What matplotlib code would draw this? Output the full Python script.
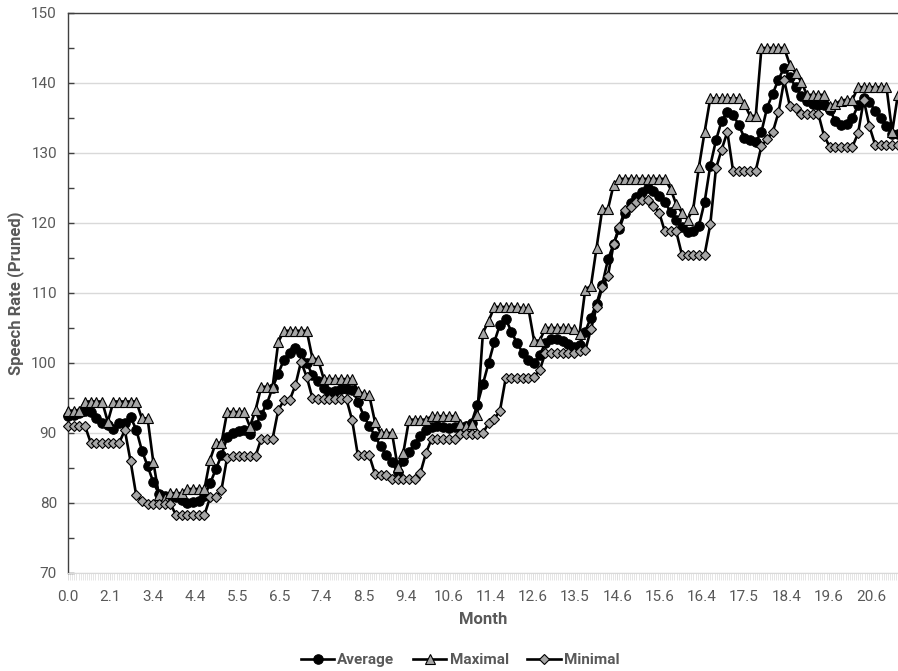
import numpy as np
import matplotlib
matplotlib.use("Agg")
import matplotlib.pyplot as plt
from matplotlib.ticker import MultipleLocator, FixedLocator

plt.rcParams['font.family'] = ['Roboto', 'DejaVu Sans']

# Month label shown every 20th category on the axis
month_labels = ["0.0", "2.1", "3.4", "4.4", "5.5", "6.5", "7.4", "8.5", "9.4", "10.6",
                "11.4", "12.6", "13.5", "14.6", "15.6", "16.4", "17.5", "18.4", "19.6", "20.6"]
n_categories = 393
label_every = 20

average = [92.5, 92.6, 92.8, 93.1, 93.0, 92.2, 91.5, 91.1, 90.6, 91.5,
           91.4, 92.3, 90.5, 87.5, 85.3, 83.0, 81.3, 81.0, 80.9, 80.8,
           80.5, 80.0, 80.2, 80.3, 81.0, 82.8, 84.8, 86.8, 89.4, 90.0,
           90.3, 90.4, 89.8, 91.1, 92.6, 94.2, 96.5, 98.5, 100.5, 101.5,
           102.2, 101.5, 100.0, 98.3, 97.5, 96.5, 95.8, 96.0, 96.3, 96.3,
           96.2, 94.5, 92.5, 91.0, 89.6, 88.1, 86.9, 85.8, 84.4, 86.0,
           87.3, 88.5, 89.6, 90.4, 90.8, 91.0, 90.9, 90.7, 90.9, 90.9,
           91.0, 91.5, 94.0, 97.0, 100.0, 103.0, 105.5, 106.3, 104.5, 102.8,
           101.5, 100.5, 100.0, 101.2, 102.8, 103.5, 103.5, 103.2, 102.7, 102.3,
           102.6, 104.5, 106.5, 108.5, 111.2, 114.8, 117.0, 119.2, 121.5, 122.9,
           123.7, 124.4, 125.0, 124.6, 123.9, 123.0, 121.6, 120.4, 119.5, 118.7,
           118.8, 119.6, 123.0, 128.2, 131.8, 134.6, 135.8, 135.5, 134.0, 132.2,
           131.8, 131.6, 133.0, 136.5, 138.5, 140.5, 142.2, 140.8, 139.5, 138.2,
           137.5, 137.0, 136.8, 136.8, 136.2, 134.6, 134.0, 134.1, 135.0, 136.8,
           137.8, 137.3, 136.0, 135.0, 133.8, 132.7, 132.7]

maximal = [93.2, 93.2, 93.2, 94.5, 94.5, 94.5, 94.5, 91.6, 94.5, 94.5,
           94.5, 94.5, 94.5, 92.1, 92.1, 85.9, 81.1, 80.7, 81.4, 81.4,
           81.4, 82.0, 82.0, 82.0, 82.0, 86.2, 88.6, 88.6, 93.0, 93.0,
           93.0, 93.0, 90.9, 93.3, 96.6, 96.6, 96.6, 103.0, 104.6, 104.6,
           104.6, 104.6, 104.6, 100.7, 100.5, 97.7, 97.7, 97.7, 97.7, 97.7,
           97.7, 96.0, 95.6, 95.4, 91.6, 90.0, 90.0, 90.0, 85.2, 87.2,
           91.9, 91.9, 91.9, 91.9, 92.4, 92.4, 92.4, 92.4, 92.4, 91.3,
           91.0, 91.3, 92.6, 104.3, 106.0, 108.0, 108.0, 108.0, 108.0, 108.0,
           107.8, 107.8, 103.2, 103.2, 105.0, 105.0, 105.0, 105.0, 105.0, 104.8,
           104.2, 110.5, 111.0, 116.5, 122.0, 122.0, 125.5, 126.3, 126.3, 126.3,
           126.3, 126.3, 126.3, 126.3, 126.3, 126.3, 124.9, 122.7, 121.5, 120.5,
           122.0, 128.0, 133.0, 137.8, 137.8, 137.8, 137.8, 137.8, 137.8, 137.0,
           135.3, 135.3, 145.0, 145.0, 145.0, 145.0, 145.0, 142.6, 141.4, 140.2,
           138.3, 138.3, 138.3, 138.3, 136.7, 137.0, 137.5, 137.6, 137.6, 139.4,
           139.4, 139.4, 139.4, 139.4, 139.4, 133.0, 138.3]

minimal = [91.0, 91.0, 91.0, 91.0, 88.6, 88.6, 88.6, 88.6, 88.6, 88.6,
           90.4, 86.0, 81.1, 80.3, 79.9, 79.9, 79.9, 79.9, 79.9, 78.3,
           78.3, 78.3, 78.3, 78.3, 78.3, 80.8, 80.8, 81.9, 86.5, 86.7,
           86.7, 86.7, 86.7, 86.7, 89.2, 89.2, 89.2, 93.3, 94.7, 94.7,
           96.8, 100.2, 98.0, 95.0, 94.8, 94.8, 94.8, 94.8, 94.8, 94.8,
           91.8, 86.8, 86.8, 86.8, 84.2, 84.0, 84.0, 83.4, 83.4, 83.4,
           83.4, 83.4, 84.3, 87.2, 89.2, 89.2, 89.2, 89.2, 89.2, 89.8,
           89.8, 89.8, 89.8, 90.0, 91.4, 92.0, 93.2, 97.8, 97.8, 97.8,
           97.8, 97.8, 98.0, 99.0, 101.5, 101.5, 101.5, 101.5, 101.5, 101.5,
           101.7, 101.8, 104.8, 108.0, 110.8, 112.5, 117.0, 119.5, 121.8, 122.3,
           123.0, 123.3, 123.3, 122.5, 121.5, 118.8, 118.8, 118.8, 115.5, 115.5,
           115.5, 115.5, 115.5, 119.8, 127.8, 130.5, 133.0, 127.5, 127.5, 127.5,
           127.5, 127.5, 131.0, 132.0, 133.0, 135.8, 140.4, 136.7, 136.5, 135.6,
           135.6, 135.6, 135.6, 132.5, 130.9, 130.9, 130.9, 130.9, 130.9, 132.8,
           137.6, 133.8, 131.2, 131.2, 131.2, 131.2, 131.2]

# observations are spread evenly across the category axis
n_points = len(average)
cat_step = 2.69
x = np.arange(n_points) * cat_step

fig = plt.figure(figsize=(8.98, 6.71), dpi=100)
ax = fig.add_axes([68 / 898, (671 - 573) / 671, (898 - 68) / 898, 560 / 671])

grey_text = "#595959"
line_kw = dict(color="black", linewidth=1.9, markeredgecolor="black",
               markeredgewidth=0.8, clip_on=False)
ax.plot(x, average, marker="o", markersize=6.8, markerfacecolor="black",
        label="Average", zorder=3, **line_kw)
ax.plot(x, maximal, marker="^", markersize=7.2, markerfacecolor="#a6a6a6",
        label="Maximal", zorder=4, **line_kw)
ax.plot(x, minimal, marker="D", markersize=5.2, markerfacecolor="#a6a6a6",
        label="Minimal", zorder=5, **line_kw)

ax.set_xlim(0, (898 - 68) / (42.26 / label_every))
ax.set_ylim(70, 150)

# y axis
ax.yaxis.set_major_locator(MultipleLocator(10))
ax.yaxis.set_minor_locator(MultipleLocator(5))
ax.grid(axis="y", which="major", color="#d9d9d9", linewidth=1.0, zorder=0)
ax.tick_params(axis="y", which="major", direction="in", length=4, width=1,
               color="#404040", labelsize=11, labelcolor=grey_text, pad=8)
ax.tick_params(axis="y", which="minor", direction="in", length=4, width=1,
               color="#404040")

# x axis: a tick per category, label every 20th
ax.xaxis.set_major_locator(FixedLocator(np.arange(len(month_labels)) * label_every))
ax.set_xticklabels(month_labels)
ax.xaxis.set_minor_locator(FixedLocator(np.arange(n_categories)))
ax.tick_params(axis="x", which="major", direction="out", length=5, width=0.6,
               color="#d9d9d9", labelsize=11, labelcolor=grey_text, pad=7)
ax.tick_params(axis="x", which="minor", direction="out", length=5, width=0.5,
               color="#dcdcdc")

for side in ["left", "top"]:
    ax.spines[side].set_color("#404040")
    ax.spines[side].set_linewidth(1.0)
ax.spines["bottom"].set_color("#d9d9d9")
ax.spines["right"].set_visible(False)

ax.set_xlabel("Month", fontsize=12, fontweight="bold", color=grey_text, labelpad=6)
ax.set_ylabel("Speech Rate (Pruned)", fontsize=12, fontweight="bold",
              color=grey_text, labelpad=5)

leg = fig.legend(loc="center", bbox_to_anchor=(460 / 898, 1 - 660 / 671), ncol=3,
                 frameon=False, fontsize=11, handlelength=2.2, columnspacing=1.2,
                 handletextpad=0.2)
for t in leg.get_texts():
    t.set_color(grey_text)
    t.set_fontweight("bold")

fig.savefig("out.png", dpi=100)
